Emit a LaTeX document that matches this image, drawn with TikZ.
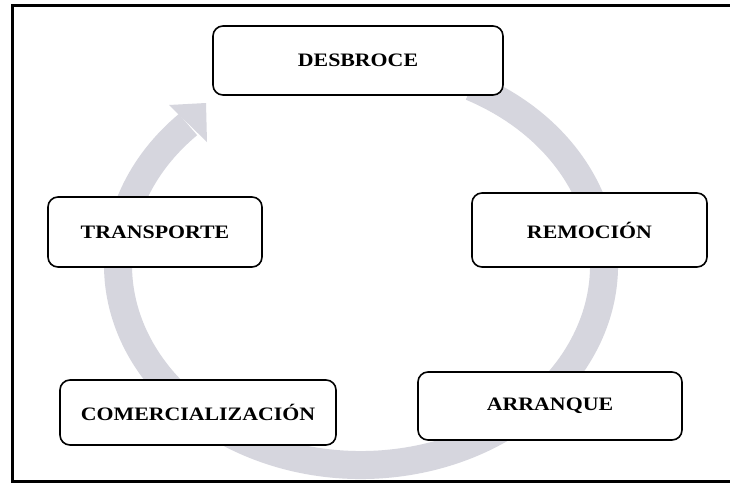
\documentclass[tikz,border=0pt]{standalone}
\usepackage{fontspec}
\setmainfont{Liberation Serif}
\newfontfamily\boxfont[FakeStretch=1.15]{Liberation Serif}
\definecolor{bandgray}{RGB}{214,214,222}
\tikzset{
  stage/.style={draw=black, line width=1.6pt, rounded corners=10pt, fill=white,
    inner sep=0pt, align=center,
    font=\boxfont\bfseries\fontsize{19}{21}\selectfont},
  band/.style={draw=bandgray, line width=28pt, line cap=butt},
  frameline/.style={draw=black, line width=3.5pt}
}
\begin{document}
\begin{tikzpicture}[x=1pt,y=-1pt]
\useasboundingbox (0,0) rectangle (730,493);
\fill[white] (0,0) rectangle (730,493);
% outer frame (right side lies beyond the picture)
\draw[frameline] (730,5.5) -- (12.5,5.5) -- (12.5,481.5) -- (730,481.5);
% circular arrow
\coordinate (ctr) at (361,265);
\draw[band] (ctr) ++(-63:243 and 200)
  arc[start angle=-63, end angle=224.6, x radius=243, y radius=200];
\fill[bandgray] (169,105) -- (206,103) -- (207,142) -- cycle;
% stages
\node[stage, minimum width=290pt, minimum height=69pt] (desbroce) at (358,60.5) {DESBROCE};
\node[stage, minimum width=235pt, minimum height=74pt] (remocion) at (589.5,230) {REMOCIÓN};
\node[stage, minimum width=264pt, minimum height=68pt] (arranque) at (550,406) {ARRANQUE};
\node[stage, minimum width=276pt, minimum height=65pt] (comerc) at (198,412.5) {COMERCIALIZACIÓN};
\node[stage, minimum width=214pt, minimum height=70pt] (transp) at (155,232) {TRANSPORTE};
\end{tikzpicture}
\end{document}
